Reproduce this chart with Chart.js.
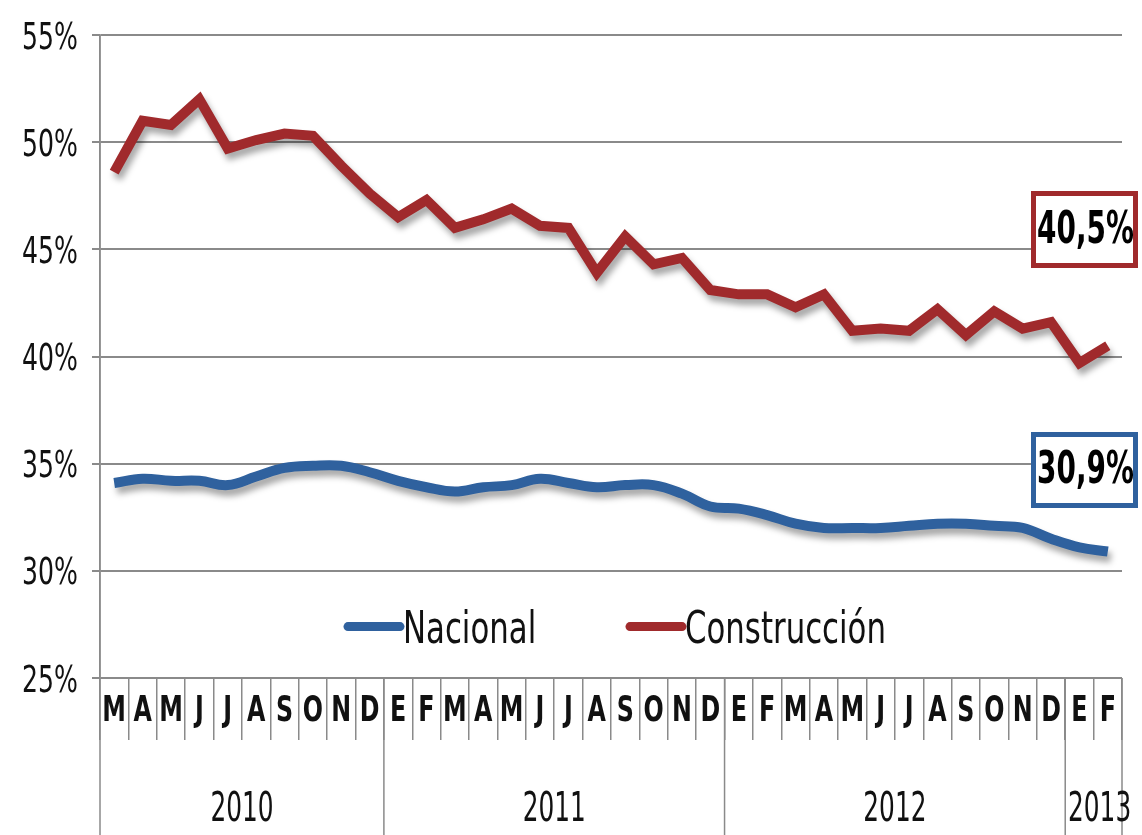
<!DOCTYPE html>
<html>
<head>
<meta charset="utf-8">
<script src="https://cdn.jsdelivr.net/npm/chart.js@4/dist/chart.umd.min.js"></script>
<style>
  html, body { margin: 0; padding: 0; background: #fff; }
  #wrap { width: 1142px; height: 835px; }
</style>
</head>
<body>
<div id="wrap"><canvas id="paroChart"></canvas></div>
<script>
// months from March 2010 to February 2013
const months = ['M','A','M','J','J','A','S','O','N','D',
                'E','F','M','A','M','J','J','A','S','O','N','D',
                'E','F','M','A','M','J','J','A','S','O','N','D',
                'E','F'];
const years = ['2010', '2011', '2012', '2013'];
const monthsPerYear = [10, 12, 12, 2];

const nacional = [34.1, 34.3, 34.2, 34.2, 34.0, 34.4, 34.8, 34.9, 34.9, 34.6,
                  34.2, 33.9, 33.7, 33.9, 34.0, 34.3, 34.1, 33.9, 34.0, 34.0, 33.6, 33.0,
                  32.9, 32.6, 32.2, 32.0, 32.0, 32.0, 32.1, 32.2, 32.2, 32.1, 32.0, 31.5,
                  31.1, 30.9];
const construccion = [48.6, 51.0, 50.8, 52.0, 49.7, 50.1, 50.4, 50.3, 48.9, 47.6,
                      46.5, 47.3, 46.0, 46.4, 46.9, 46.1, 46.0, 43.9, 45.6, 44.3, 44.6, 43.1,
                      42.9, 42.9, 42.3, 42.9, 41.2, 41.3, 41.2, 42.2, 41.0, 42.1, 41.3, 41.6,
                      39.7, 40.5];

const yMin = 25, yMax = 55, yStep = 5;

const FONT = '"DejaVu Sans", "Liberation Sans", sans-serif';
const BLUE = '#2f619e';
const RED = '#a02a2c';
const GRID = '#8a8a8a';
const INK = '#111';

// tall narrow text like the original (Calibri-ish look)
function drawText(ctx, text, x, y, size, weight, sx, align) {
    ctx.save();
    ctx.translate(x, y);
    ctx.scale(sx, 1);
    ctx.font = weight + ' ' + size + 'px ' + FONT;
    ctx.textAlign = align;
    ctx.textBaseline = 'alphabetic';
    // y is the visual centre of capitals
    ctx.fillText(text, 0, size * 0.365);
    ctx.restore();
}

// soft drop shadow under each line
const shadowPlugin = {
    id: 'lineShadow',
    beforeDatasetDraw(chart) {
        const ctx = chart.ctx;
        ctx.save();
        ctx.shadowColor = 'rgba(0,0,0,0.35)';
        ctx.shadowBlur = 6;
        ctx.shadowOffsetX = 3;
        ctx.shadowOffsetY = 6;
    },
    afterDatasetDraw(chart) {
        chart.ctx.restore();
    }
};

// tick labels drawn at the scale's own tick positions
const tickTextPlugin = {
    id: 'tickText',
    afterDraw(chart) {
        const ctx = chart.ctx;
        ctx.save();
        ctx.fillStyle = INK;
        const ys = chart.scales.y;
        ys.ticks.forEach((t, i) => {
            drawText(ctx, t.label, 78, ys.getPixelForTick(i), 37, 'normal', 0.68, 'right');
        });
        const xs = chart.scales.x;
        xs.ticks.forEach((t, i) => {
            drawText(ctx, t.label, xs.getPixelForTick(i), 708, 36, 'bold', 0.66, 'center');
        });
        ctx.restore();
    }
};

// year row under the month labels, plus the long separators
const yearsPlugin = {
    id: 'yearRow',
    afterDraw(chart) {
        const ctx = chart.ctx;
        const x = chart.scales.x;
        const area = chart.chartArea;
        const half = (x.getPixelForValue(1) - x.getPixelForValue(0)) / 2;
        ctx.save();
        ctx.strokeStyle = GRID;
        ctx.lineWidth = 1.5;
        // y axis goes all the way down
        ctx.beginPath();
        ctx.moveTo(area.left, area.top);
        ctx.lineTo(area.left, chart.height);
        ctx.stroke();
        ctx.fillStyle = INK;
        let start = 0;
        years.forEach((yr, i) => {
            const end = start + monthsPerYear[i] - 1;
            const x0 = x.getPixelForValue(start) - half;
            const x1 = x.getPixelForValue(end) + half;
            ctx.beginPath();
            ctx.moveTo(x1, area.bottom);
            ctx.lineTo(x1, chart.height);
            ctx.stroke();
            drawText(ctx, yr, (x0 + x1) / 2 + (i === years.length - 1 ? 6 : 0), 806, 40, 'normal', 0.62, 'center');
            start = end + 1;
        });
        ctx.restore();
    }
};

// legend inside the plot + boxed end values
const extrasPlugin = {
    id: 'extras',
    afterDraw(chart) {
        const ctx = chart.ctx;
        const ys = chart.scales.y;
        ctx.save();
        const items = [
            { ds: chart.data.datasets[0], x: 344 },
            { ds: chart.data.datasets[1], x: 626 }
        ];
        const ly = ys.getPixelForValue(27.4);
        items.forEach(it => {
            ctx.strokeStyle = it.ds.borderColor;
            ctx.lineWidth = 9;
            ctx.lineCap = 'round';
            ctx.beginPath();
            ctx.moveTo(it.x + 4, ly);
            ctx.lineTo(it.x + 56, ly);
            ctx.stroke();
            ctx.fillStyle = INK;
            drawText(ctx, it.ds.label, it.x + 59, ly, 44, 'normal', 0.7, 'left');
        });
        const boxes = [
            { ds: chart.data.datasets[1], top: 191, bottom: 268 },
            { ds: chart.data.datasets[0], top: 432, bottom: 508 }
        ];
        boxes.forEach(b => {
            const v = b.ds.data[b.ds.data.length - 1];
            const txt = v.toFixed(1).replace('.', ',') + '%';
            const x0 = 1031, x1 = 1138;
            ctx.fillStyle = '#fff';
            ctx.fillRect(x0, b.top, x1 - x0, b.bottom - b.top);
            ctx.strokeStyle = b.ds.borderColor;
            ctx.lineWidth = 5;
            ctx.lineCap = 'butt';
            ctx.strokeRect(x0 + 2.5, b.top + 2.5, x1 - x0 - 5, b.bottom - b.top - 5);
            ctx.fillStyle = '#000';
            drawText(ctx, txt, (x0 + x1) / 2 + 1, (b.top + b.bottom) / 2 - 3, 45, 'bold', 0.62, 'center');
        });
        ctx.restore();
    }
};

const ctx = document.getElementById('paroChart').getContext('2d');
new Chart(ctx, {
    type: 'line',
    data: {
        labels: months,
        datasets: [{
            label: 'Nacional',
            data: nacional,
            borderColor: BLUE,
            borderWidth: 10,
            tension: 0.4,
            pointRadius: 0,
            fill: false
        }, {
            label: 'Construcción',
            data: construccion,
            borderColor: RED,
            borderWidth: 10,
            borderJoinStyle: 'miter',
            tension: 0,
            pointRadius: 0,
            fill: false
        }]
    },
    options: {
        responsive: true,
        maintainAspectRatio: false,
        animation: false,
        layout: { padding: { top: 35, right: 20, left: 0, bottom: 0 } },
        plugins: {
            legend: { display: false },
            tooltip: { enabled: false }
        },
        scales: {
            x: {
                offset: true,
                grid: {
                    offset: true,
                    drawOnChartArea: false,
                    tickLength: 62,
                    color: GRID,
                    lineWidth: 1.5
                },
                border: { display: false },
                ticks: {
                    autoSkip: false,
                    maxRotation: 0,
                    color: 'rgba(0,0,0,0)',
                    font: { family: FONT, size: 20 }
                },
                afterFit(scale) { scale.height = 157; }
            },
            y: {
                min: yMin,
                max: yMax,
                ticks: {
                    stepSize: yStep,
                    color: 'rgba(0,0,0,0)',
                    font: { family: FONT, size: 20 },
                    callback: v => v + '%'
                },
                grid: {
                    color: GRID,
                    lineWidth: 2,
                    tickLength: 8
                },
                border: { color: GRID, width: 1.5 },
                afterFit(scale) { scale.width = 100; }
            }
        }
    },
    plugins: [shadowPlugin, tickTextPlugin, yearsPlugin, extrasPlugin]
});
</script>
</body>
</html>
